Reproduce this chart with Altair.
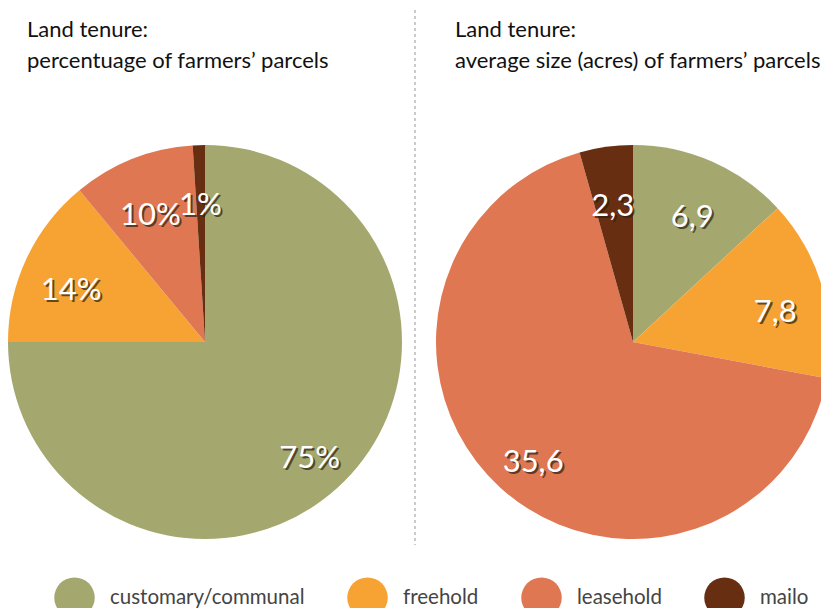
import altair as alt
import pandas as pd

categories = ["customary/communal", "freehold", "leasehold", "mailo"]
share_pct = [75, 14, 10, 1]
share_labels = ["75%", "14%", "10%", "1%"]
size_acres = [6.9, 7.8, 35.6, 2.3]
size_labels = ["6,9", "7,8", "35,6", "2,3"]
colors = ["#A4A86F", "#F6A334", "#E07753", "#672E12"]
title_left = "Land tenure:\npercentuage of farmers’ parcels"
title_right = "Land tenure:\naverage size (acres) of farmers’ parcels"

FONT = "Lato"

color_enc = alt.Color(
    "cat:N",
    scale=alt.Scale(domain=categories, range=colors),
    legend=alt.Legend(
        orient="none", legendX=46, legendY=569, direction="horizontal", columns=4,
        title=None, symbolType="circle", symbolSize=1640, symbolStrokeWidth=0,
        labelFontSize=20.5, labelFont=FONT, labelColor="#444444", labelOffset=15,
        columnPadding=42, labelBaseline="middle", padding=0, labelLimit=400,
        symbolOpacity=1,
    ),
)


def pie(values, labels, cx, cy):
    df = pd.DataFrame({"cat": categories, "value": values, "label": labels,
                       "idx": list(range(len(categories)))})
    base = alt.Chart(df).encode(
        theta=alt.Theta("value:Q", stack=True),
        order=alt.Order("idx:Q"),
        x=alt.value(cx), y=alt.value(cy),
    )
    arc = base.mark_arc(radius=197).encode(color=color_enc)
    shadow = base.mark_text(radius=148, font=FONT, fontSize=31, color="#2a1f14",
                            opacity=0.7, dx=2, dy=14, baseline="middle").encode(text="label:N")
    text = base.mark_text(radius=148, font=FONT, fontSize=31, color="white",
                          dy=12, baseline="middle").encode(text="label:N")
    return [arc, shadow, text]


def title(t, x):
    return alt.Chart(pd.DataFrame({"t": [t]})).mark_text(
        align="left", baseline="alphabetic", fontSize=22, lineHeight=31,
        font=FONT, color="#111111", lineBreak="\n",
    ).encode(x=alt.value(x), y=alt.value(29), text="t:N")


rule = alt.Chart(pd.DataFrame({"r": [0]})).mark_rule(
    color="#BBBBBB", strokeDash=[3, 3], strokeWidth=1.5
).encode(x=alt.value(407), y=alt.value(2), y2=alt.value(537))

layers = (pie(share_pct, share_labels, 197, 334)
          + pie(size_acres, size_labels, 625, 334)
          + [rule, title(title_left, 19), title(title_right, 447)])

chart = alt.layer(*layers).resolve_scale(theta="independent").properties(
    width=813, height=600, padding=0, autosize="none"
).configure_view(stroke=None)

chart.save("out.html", embed_options={"renderer": "svg", "actions": False})
